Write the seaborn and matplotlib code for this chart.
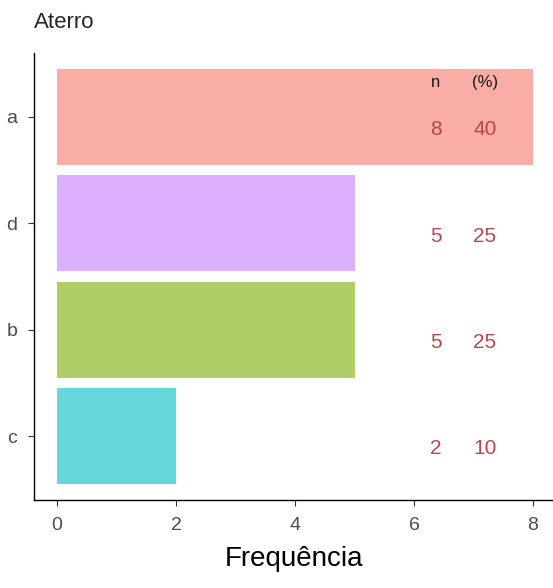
import numpy as np
import pandas as pd
import seaborn as sns
import matplotlib.pyplot as plt

# data
categorias = ["a", "d", "b", "c"]
frequencia = [8, 5, 5, 2]
percentual = [40, 25, 25, 10]
cores = ["#F8766D", "#C77CFF", "#7CAE00", "#00BFC4"]

df = pd.DataFrame({"cat": categorias, "freq": frequencia, "pct": percentual})

sns.set_style("ticks")
plt.rcParams["font.family"] = ["Liberation Sans", "DejaVu Sans"]

fig = plt.figure(figsize=(5.53, 5.88), dpi=100)
ax = fig.add_axes([0.0615, 0.1497, 0.9385, 0.7602])

sns.barplot(data=df, x="freq", y="cat", hue="cat", palette=cores, order=categorias,
            orient="h", width=0.9, alpha=0.6, saturation=1, linewidth=0,
            legend=False, ax=ax)

ax.set_xlim(-0.387, 8.336)
ax.set_ylim(3.6, -0.6)

# colunas n e (%)
x_n, x_p = 6.37, 7.19
ax.text(x_n, -0.32, "n", ha="center", va="center", fontsize=12, color="#1a1a1a")
ax.text(x_p, -0.32, "(%)", ha="center", va="center", fontsize=12, color="#1a1a1a")
for i, (n, p) in enumerate(zip(frequencia, percentual)):
    ax.text(x_n, i + 0.12, str(n), ha="center", va="center", fontsize=15, color="#B5474F")
    ax.text(x_p, i + 0.12, str(p), ha="center", va="center", fontsize=15, color="#B5474F")

ax.set_xticks([0, 2, 4, 6, 8])
ax.tick_params(axis="both", labelsize=14, labelcolor="#4D4D4D", color="#333333", length=4)
ax.tick_params(axis="x", pad=8)
ax.tick_params(axis="y", pad=8)
ax.set_xlabel("Frequência", fontsize=20, color="black", labelpad=9)
ax.set_ylabel("")
ax.set_title("Aterro", loc="left", fontsize=16, x=-0.0, pad=18)
for s in ["top", "right"]:
    ax.spines[s].set_visible(False)
for s in ["left", "bottom"]:
    ax.spines[s].set_color("black")
    ax.spines[s].set_linewidth(1.0)

fig.savefig("out.png", dpi=100)
